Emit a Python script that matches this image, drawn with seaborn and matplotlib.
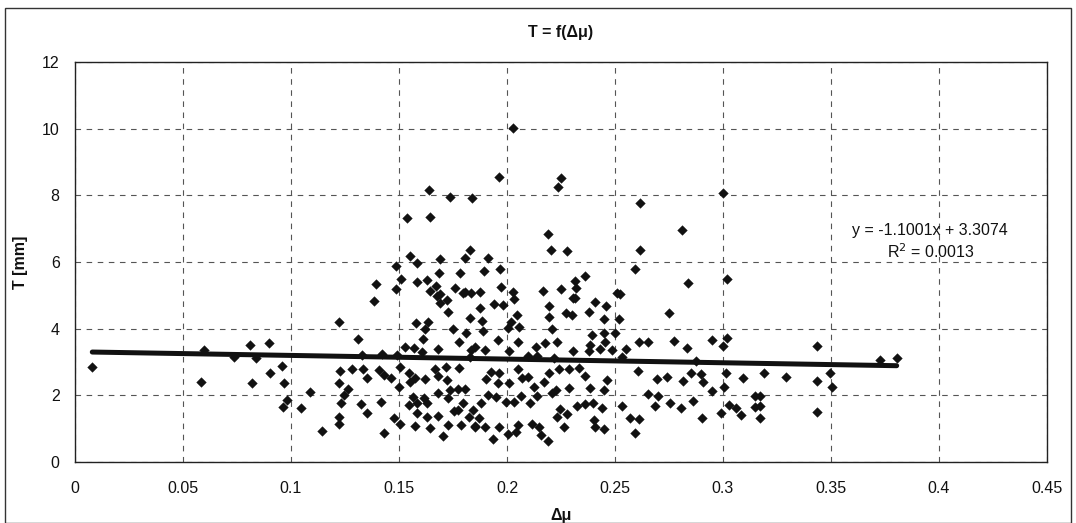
import numpy as np
import pandas as pd
import matplotlib
matplotlib.use("Agg")
import matplotlib.pyplot as plt
from matplotlib.patches import Rectangle
import seaborn as sns

# Measured pairs: friction difference (delta mu) and T [mm]
delta_mu = [
    0.008, 0.0596, 0.0585, 0.0738, 0.081, 0.084, 0.082, 0.0897, 0.0901, 0.0958,
    0.0969, 0.0981, 0.0963, 0.1048, 0.1088, 0.1142,
    0.1223, 0.1383, 0.1311, 0.133, 0.1421, 0.149, 0.1227, 0.1284, 0.1334, 0.1406,
    0.1429, 0.1463, 0.122, 0.135, 0.1264, 0.1246, 0.123, 0.1322, 0.1417, 0.1353,
    0.122, 0.122, 0.1429,
    0.1506, 0.1529, 0.157, 0.1605, 0.1682, 0.1613, 0.1578, 0.1633, 0.162, 0.1748,
    0.1809, 0.178, 0.169, 0.172, 0.1728, 0.169, 0.1797,
    0.1544, 0.162, 0.1667, 0.1716, 0.168, 0.172, 0.1552, 0.1567, 0.1582, 0.1544,
    0.1628, 0.1682, 0.1735, 0.1773, 0.1805, 0.1728, 0.1797, 0.1773, 0.1755, 0.1682,
    0.1628, 0.1582, 0.1475, 0.1506, 0.1574, 0.1643, 0.1728, 0.1705, 0.1789, 0.185,
    0.1502, 0.1614, 0.1826, 0.1574, 0.178, 0.1835,
    0.1639, 0.1735, 0.1839, 0.1539, 0.1643, 0.1553, 0.1585, 0.1487, 0.1689, 0.183,
    0.1805, 0.1685, 0.1784, 0.1394, 0.1507, 0.1484, 0.1585, 0.1628, 0.167, 0.1643,
    0.1678, 0.176, 0.1804,
    0.203, 0.1961, 0.2251, 0.2237, 0.2192, 0.2203, 0.2279, 0.1912, 0.1894, 0.1966,
    0.1974, 0.1877, 0.203, 0.2167, 0.2252, 0.2313, 0.2359, 0.2321, 0.2307, 0.2508,
    0.1835, 0.2314, 0.1942, 0.198, 0.2034, 0.2194, 0.2408, 0.2457, 0.1877, 0.2044,
    0.2194, 0.2271, 0.2301, 0.2378, 0.2447, 0.1827, 0.1884, 0.2019, 0.2057, 0.1889,
    0.2003, 0.2207, 0.2394, 0.2447, 0.2501, 0.1957, 0.2049, 0.2176, 0.2233, 0.2386,
    0.2455, 0.185, 0.1896, 0.2011, 0.2134, 0.2305, 0.2378, 0.2432, 0.2485, 0.2099,
    0.214, 0.2217, 0.1827,
    0.1926, 0.1964, 0.2049, 0.2071, 0.2099, 0.2194, 0.224, 0.2286, 0.2332, 0.2362,
    0.2462, 0.1904, 0.1957, 0.2011, 0.2171, 0.2125, 0.2228, 0.2286, 0.2386, 0.2447,
    0.1912, 0.195, 0.2065, 0.214, 0.221, 0.1881, 0.1995, 0.2034, 0.2107, 0.2324,
    0.2362, 0.24, 0.2439, 0.1842, 0.2245, 0.2276, 0.187, 0.2233, 0.2405, 0.185,
    0.1896, 0.1965, 0.2049, 0.2115, 0.2149, 0.2263, 0.2408, 0.2447, 0.1934, 0.2003,
    0.2041, 0.2156, 0.2189,
    0.3002, 0.2615, 0.2809, 0.2615, 0.2592, 0.2838, 0.3017, 0.2523,
    0.2748, 0.2518, 0.261, 0.2653, 0.2772, 0.2951, 0.3017, 0.3001, 0.2832, 0.2551,
    0.2531, 0.2875, 0.2607, 0.2852, 0.2898, 0.3012, 0.3093, 0.2696, 0.2741, 0.2814,
    0.2909, 0.3005, 0.2951, 0.2653, 0.2699, 0.2534, 0.2684, 0.2756, 0.2806, 0.2863,
    0.3028, 0.3058, 0.2993, 0.3084, 0.2569, 0.2612, 0.2905, 0.2592, 0.315, 0.315,
    0.3437, 0.3725, 0.3804, 0.3189, 0.3291, 0.3434, 0.3495, 0.3503, 0.3169, 0.3169,
    0.3169, 0.3434,
]
thickness_mm = [
    2.85, 3.36, 2.39, 3.16, 3.51, 3.11, 2.36, 3.58, 2.68, 2.88,
    2.38, 1.86, 1.66, 1.61, 2.09, 0.93,
    4.21, 4.83, 3.68, 3.20, 3.24, 3.21, 2.73, 2.79, 2.79, 2.76,
    2.61, 2.53, 2.36, 2.51, 2.18, 2.01, 1.78, 1.73, 1.79, 1.46,
    1.36, 1.14, 0.88,
    2.86, 3.46, 3.43, 3.31, 3.39, 3.68, 4.16, 4.21, 3.98, 3.99,
    3.88, 3.61, 4.76, 4.86, 4.51, 5.04, 5.08,
    2.66, 2.48, 2.79, 2.84, 2.58, 2.46, 2.41, 1.96, 1.76, 1.71,
    1.78, 2.06, 2.16, 2.18, 2.20, 1.91, 1.76, 1.56, 1.52, 1.38,
    1.36, 1.48, 1.33, 1.13, 1.09, 1.01, 1.11, 0.78, 1.11, 1.08,
    2.26, 1.91, 1.34, 2.51, 2.81, 3.36,
    8.16, 7.96, 7.93, 7.33, 7.36, 6.19, 5.96, 5.88, 6.08, 6.36,
    6.11, 5.68, 5.68, 5.34, 5.48, 5.19, 5.39, 5.46, 5.29, 5.14,
    4.99, 5.21, 5.09,
    10.01, 8.56, 8.51, 8.26, 6.84, 6.36, 6.33, 6.11, 5.73, 5.78,
    5.26, 5.11, 5.11, 5.13, 5.19, 5.44, 5.59, 5.21, 4.91, 5.06,
    5.06, 4.91, 4.74, 4.71, 4.88, 4.69, 4.81, 4.68, 4.61, 4.41,
    4.36, 4.48, 4.41, 4.51, 4.28, 4.31, 4.24, 4.21, 4.06, 3.94,
    4.01, 3.98, 3.81, 3.86, 3.86, 3.66, 3.61, 3.56, 3.61, 3.51,
    3.61, 3.46, 3.36, 3.33, 3.44, 3.34, 3.33, 3.38, 3.36, 3.18,
    3.18, 3.11, 3.16,
    2.71, 2.68, 2.78, 2.51, 2.54, 2.68, 2.79, 2.79, 2.81, 2.58,
    2.46, 2.48, 2.36, 2.38, 2.41, 2.26, 2.16, 2.21, 2.21, 2.16,
    2.01, 1.94, 1.98, 1.98, 2.06, 1.76, 1.81, 1.81, 1.76, 1.68,
    1.74, 1.78, 1.61, 1.56, 1.58, 1.43, 1.31, 1.36, 1.26, 1.06,
    1.06, 1.06, 1.11, 1.14, 1.04, 1.04, 1.06, 0.98, 0.68, 0.84,
    0.91, 0.81, 0.64,
    8.06, 7.78, 6.96, 6.36, 5.78, 5.38, 5.48, 5.04,
    4.46, 4.29, 3.61, 3.61, 3.64, 3.66, 3.71, 3.48, 3.41, 3.38,
    3.16, 3.04, 2.74, 2.66, 2.64, 2.68, 2.51, 2.48, 2.54, 2.44,
    2.39, 2.24, 2.13, 2.04, 1.98, 1.68, 1.69, 1.76, 1.61, 1.83,
    1.71, 1.61, 1.48, 1.41, 1.33, 1.28, 1.31, 0.88, 1.98, 1.66,
    3.48, 3.06, 3.13, 2.68, 2.56, 2.43, 2.66, 2.26, 1.98, 1.68,
    1.31, 1.51,
]

# Least-squares trend line as stated in the annotation
slope = -1.1001
intercept = 3.3074
r_squared = 0.0013

x_ticks = [0, 0.05, 0.1, 0.15, 0.2, 0.25, 0.3, 0.35, 0.4, 0.45]
x_tick_labels = ["0", "0.05", "0.1", "0.15", "0.2", "0.25", "0.3", "0.35", "0.4", "0.45"]
y_ticks = [0, 2, 4, 6, 8, 10, 12]

df = pd.DataFrame({"dmu": delta_mu, "T": thickness_mm})
x_fit = np.array([min(delta_mu), max(delta_mu)])
fit = pd.DataFrame({"dmu": x_fit, "T": slope * x_fit + intercept})

sns.set_theme(style="white")
plt.rcParams["font.family"] = ["Liberation Sans", "DejaVu Sans"]

W, H = 1076, 523
fig = plt.figure(figsize=(W / 100, H / 100), dpi=100)
fig.patch.set_facecolor("white")
ax = fig.add_axes([75 / W, 1 - 462 / H, (1047 - 75) / W, (462 - 62) / H])

# Outer chart border
fig.patches.append(Rectangle((5 / W, 0.0), (1071 - 5) / W, 1 - 8 / H,
                             transform=fig.transFigure, fill=False,
                             edgecolor="#333333", linewidth=1.0))

sns.scatterplot(data=df, x="dmu", y="T", ax=ax, marker="D", s=24,
                color="#111111", edgecolor="#111111", linewidth=0.3, zorder=3)
sns.lineplot(data=fit, x="dmu", y="T", ax=ax, color="#111111",
             linewidth=3.6, zorder=4)

ax.set_xlim(0, 0.45)
ax.set_ylim(0, 12)
ax.set_xticks(x_ticks)
ax.set_xticklabels(x_tick_labels)
ax.set_yticks(y_ticks)

ax.grid(True, color="#555555", linestyle=(0, (5, 5)), linewidth=0.8)
ax.set_axisbelow(True)
for side in ["left", "bottom", "top", "right"]:
    ax.spines[side].set_visible(True)
    ax.spines[side].set_color("#222222")
    ax.spines[side].set_linewidth(1.0)

ax.tick_params(axis="both", which="major", direction="out", length=5,
               width=1.0, color="#222222", labelsize=11.5, labelcolor="#111111",
               pad=6)
ax.tick_params(axis="x", pad=9)

ax.set_xlabel("Δμ", fontsize=11.5, fontweight="bold", color="#111111", labelpad=8)
ax.set_ylabel("T [mm]", fontsize=11.5, fontweight="bold", color="#111111", labelpad=10)
ax.set_title("T = f(Δμ)", fontsize=11.5, fontweight="bold", color="#111111", pad=18)

ax.text(0.396, 6.96, f"y = {slope:.4f}x + {intercept:.4f}", ha="center",
        va="center", fontsize=11.5, color="#111111", zorder=5)
ax.text(0.396, 6.3, f"R$^2$ = {r_squared:.4f}", ha="center", va="center",
        fontsize=11.5, color="#111111", zorder=5)

fig.savefig("out.png", dpi=100, facecolor="white")
